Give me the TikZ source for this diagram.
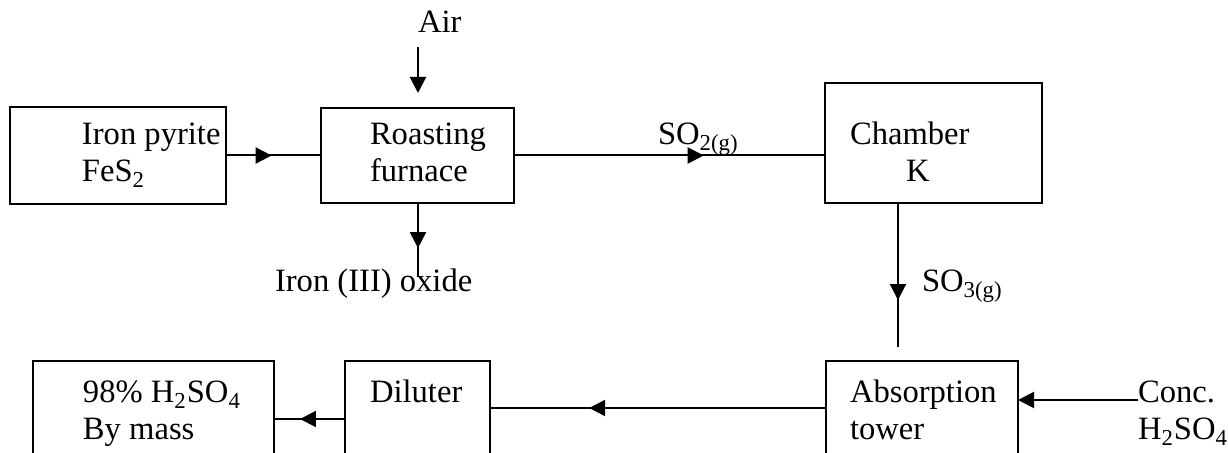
\documentclass[tikz,border=0pt]{standalone}
\usepackage{fontspec}
\setmainfont{Liberation Serif}
\usetikzlibrary{arrows.meta,decorations.markings,fit}
\begin{document}
\begin{tikzpicture}[x=0.5pt,y=-0.5pt,
  box/.style={draw,line width=1pt,inner sep=0pt,outer sep=0pt},
  txt/.style={anchor=base west,inner sep=0pt,outer sep=0pt,font=\fontsize{16.3}{18.5}\selectfont},
  conn/.style={line width=1pt},
  midarr/.style={decoration={markings,mark=at position #1 with {\arrow{Triangle[length=8pt,width=8pt]}}},postaction={decorate}},
  endarr/.style={-{Triangle[length=8pt,width=8pt]}}]
\useasboundingbox (0,0) rectangle (1228,453);
\clip (0,0) rectangle (1228,453);
% boxes
\node[box,fit={(10,107)(226,204)}] (b1) {};
\node[box,fit={(321,108)(514,203)}] (b2) {};
\node[box,fit={(825,83)(1042,203)}] (b3) {};
\node[box,fit={(826,361)(1018,480)}] (b4) {};
\node[box,fit={(345,361)(490,480)}] (b5) {};
\node[box,fit={(33,361)(274,480)}] (b6) {};
% texts
\node[txt] (t1a) at (82,145) {Iron pyrite};
\node[txt] (t1b) at (82,182) {FeS\textsubscript{2}};
\node[txt] (t2a) at (370,145) {Roasting};
\node[txt] (t2b) at (370,182) {furnace};
\node[txt] (t3a) at (850,145) {Chamber};
\node[txt] (t3b) at (906,182) {K};
\node[txt] (air) at (418,33) {Air};
\node[txt] (oxide) at (275,292) {Iron (III) oxide};
\node[txt] (so2) at (658,145) {SO\textsubscript{2(g)}};
\node[txt] (so3) at (922,292) {SO\textsubscript{3(g)}};
\node[txt] (t4a) at (850,403) {Absorption};
\node[txt] (t4b) at (850,440) {tower};
\node[txt] (t5) at (370,403) {Diluter};
\node[txt] (t6a) at (83,403) {98\% H\textsubscript{2}SO\textsubscript{4}};
\node[txt] (t6b) at (83,440) {By mass};
\node[txt] (conc1) at (1138,403) {Conc.};
\node[txt] (conc2) at (1138,440) {H\textsubscript{2}SO\textsubscript{4}};
% helper coordinates
\coordinate (airtop) at (418,47);
\coordinate (airtip) at (418,93);
\coordinate (oxend) at (418,277);
\coordinate (so3end) at (898,347);
\coordinate (ad) at (0,408);
\coordinate (dy) at (0,419);
\coordinate (cy) at (0,400);
% connectors
\draw[conn,midarr=0.48] (b1.east) -- (b2.west);
\draw[conn,midarr=0.61] (b2.east) -- (b2.east -| b3.west);
\draw[conn,endarr] (airtop) -- (airtip);
\draw[conn,midarr=0.61] (b2.south -| oxend) -- (oxend);
\draw[conn,midarr=0.674] (b3.south -| so3end) -- (so3end);
\draw[conn,midarr=0.705] (b4.west |- ad) -- (b5.east |- ad);
\draw[conn,midarr=0.634] (b5.west |- dy) -- (b6.east |- dy);
\draw[conn,endarr] (conc1.west |- cy) -- (b4.east |- cy);
\end{tikzpicture}
\end{document}
